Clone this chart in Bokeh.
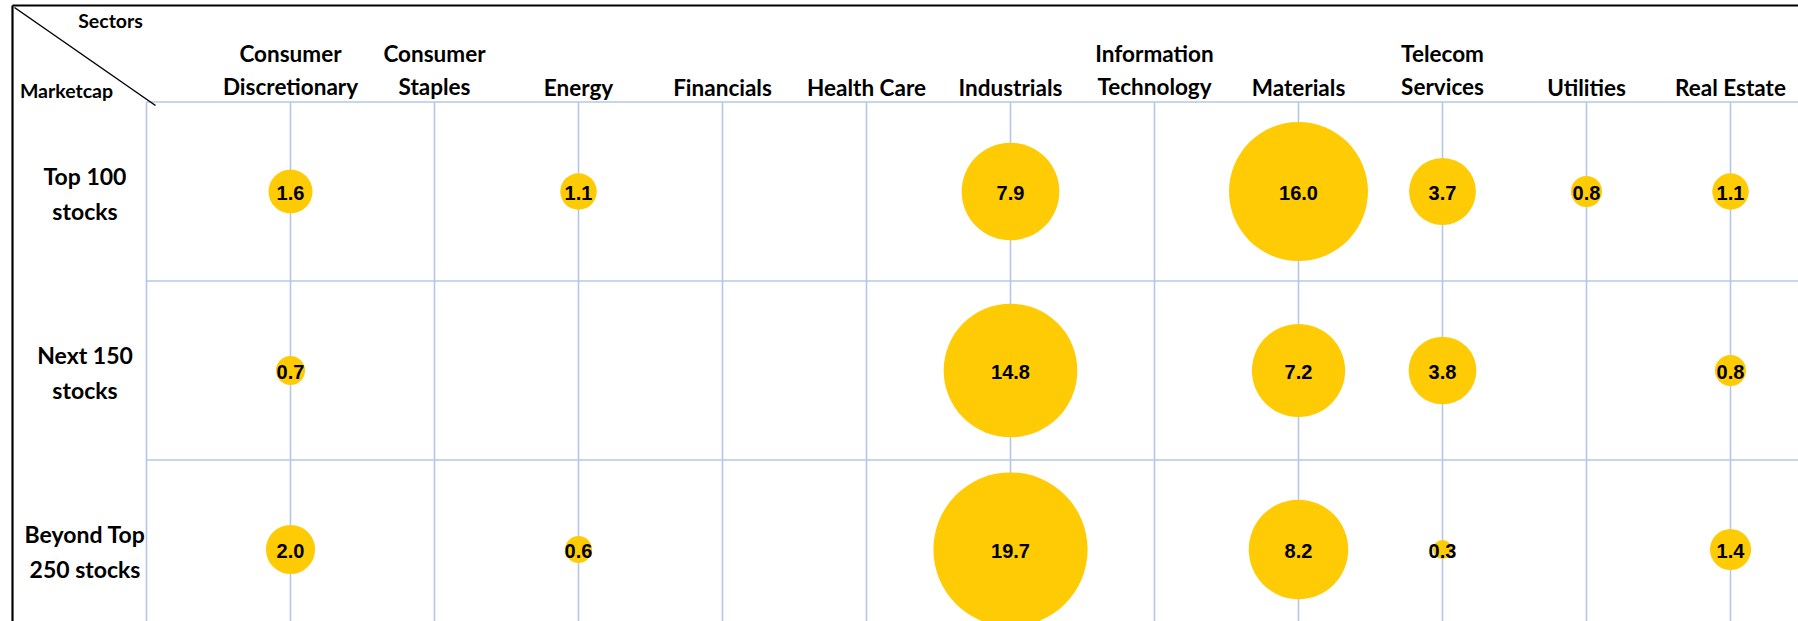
import math
from bokeh.plotting import figure
from bokeh.models import Range1d, ColumnDataSource
from bokeh.core.properties import value
from bokeh.embed import file_html
from bokeh.resources import INLINE

# ---- data ----
sectors = ["Consumer\nDiscretionary", "Consumer\nStaples", "Energy", "Financials",
           "Health Care", "Industrials", "Information\nTechnology", "Materials",
           "Telecom\nServices", "Utilities", "Real Estate"]
marketcaps = ["Top 100\nstocks", "Next 150\nstocks", "Beyond Top\n250 stocks"]

top100 = [1.6, None, 1.1, None, None, 7.9, None, 16.0, 3.7, 0.8, 1.1]
next150 = [0.7, None, None, None, None, 14.8, None, 7.2, 3.8, None, 0.8]
beyond250 = [2.0, None, 0.6, None, None, 19.7, None, 8.2, 0.3, None, 1.4]
series = [top100, next150, beyond250]

# ---- layout helpers (page px -> data) ----
ORG = 0
PX_X, X0_PAGE = 144.0, 146.0
PX_Y, Y1_PAGE = 179.0, 549.0
def dx(px): return (px - X0_PAGE) / PX_X
def dy(py): return 1 + (Y1_PAGE - py) / PX_Y

W, H = 1798, 621
p = figure(width=W, height=H, output_backend="svg", toolbar_location=None,
           x_range=Range1d(dx(ORG), dx(ORG + W)), y_range=Range1d(dy(ORG + H), dy(ORG)),
           min_border=0, min_border_left=0, min_border_right=0,
           min_border_top=0, min_border_bottom=0)
p.xaxis.visible = False
p.yaxis.visible = False
p.grid.visible = False
p.outline_line_color = None
p.background_fill_color = "white"
p.border_fill_color = "white"

ncat = len(sectors)
nrow = len(marketcaps)
xs = list(range(1, ncat + 1))
rows_y = [nrow - i for i in range(nrow)]   # 3, 2, 1
top_y = nrow + 0.5
bot_y = dy(ORG + H) - 0.1
right_x = dx(ORG + W) + 0.1

grid_col = "#B4C7E7"
# vertical grid lines (category centres + left edge)
vx = [0] + xs
p.segment(x0=vx, y0=[bot_y] * len(vx), x1=vx, y1=[top_y] * len(vx),
          line_color=grid_col, line_width=1.6)
# horizontal grid lines (row separators + top)
hy = [r + 0.5 for r in range(1, nrow + 1)]
p.segment(x0=[0] * len(hy), y0=hy, x1=[right_x] * len(hy), y1=hy,
          line_color=grid_col, line_width=1.6)

# black frame (top + left) and diagonal header line
p.segment(x0=[dx(12), dx(12)], y0=[dy(5), dy(5)], x1=[right_x, dx(12)], y1=[dy(5), bot_y],
          line_color="black", line_width=2.2)
p.segment(x0=[dx(14)], y0=[dy(7)], x1=[dx(155)], y1=[dy(105)],
          line_color="black", line_width=1.5)

# bubbles
bx, byy, bv, bs, bl = [], [], [], [], []
for ri, ser in enumerate(series):
    for ci, v in enumerate(ser):
        if v is None:
            continue
        bx.append(xs[ci]); byy.append(rows_y[ri]); bv.append(v)
        bs.append(34.75 * math.sqrt(v)); bl.append(f"{v:.1f}")
src = ColumnDataSource(dict(x=bx, y=byy, v=bv, size=bs, label=bl))
p.scatter("x", "y", size="size", source=src, fill_color="#FFCB05", line_color=None)
p.text("x", "y", text="label", source=src, text_align="center", text_baseline="middle",
       text_font=value("Liberation Sans"), text_font_style="bold",
       text_font_size="20px", text_color="black", y_offset=1)

# column headers
p.text(x=xs, y=[dy(100)] * ncat, text=sectors, text_align="center", text_baseline="bottom",
       text_font=value("Lato"), text_font_style="bold", text_font_size="22.5px",
       text_line_height=1.23, text_color="black")

# row headers
p.text(x=[dx(84.5)] * nrow, y=rows_y, text=marketcaps, text_align="center",
       text_baseline="middle", text_font=value("Lato"), text_font_style="bold",
       text_font_size="23px", text_line_height=1.22, text_color="black", y_offset=2)

# corner labels
p.text(x=[dx(110), dx(66)], y=[dy(20), dy(90)], text=["Sectors", "Marketcap"],
       text_align="center", text_baseline="middle", text_font=value("Lato"),
       text_font_style="bold", text_font_size="19.5px", text_color="black")

open("out.html", "w").write(file_html(p, INLINE))
